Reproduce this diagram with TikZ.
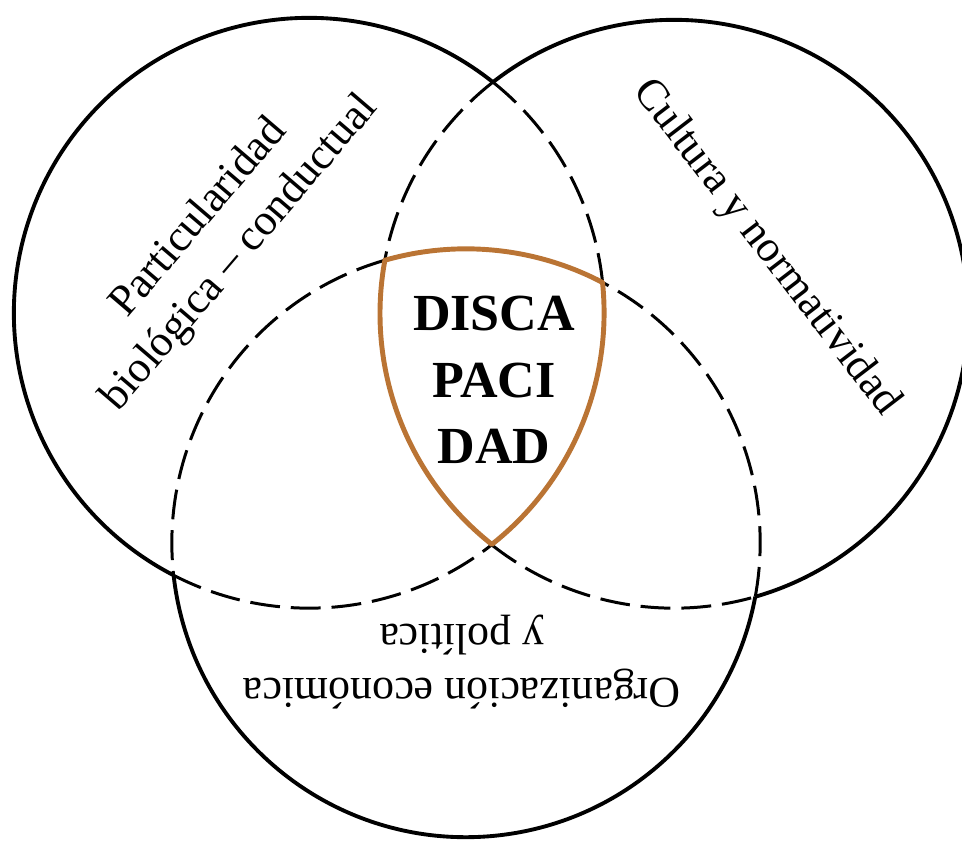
\documentclass[tikz,border=0pt]{standalone}
\usepackage{fontspec}
\setmainfont{Liberation Serif}
\definecolor{corecolor}{RGB}{186,116,52}

\begin{document}
\begin{tikzpicture}[x=0.01cm, y=0.01cm,
  solidarc/.style={line width=1.1pt},
  dasharc/.style={line width=0.85pt, dash pattern=on 8.5pt off 3.1pt},
  corearc/.style={line width=1.4pt, draw=corecolor, line join=round},
  lbl/.style={align=center, font=\fontsize{12.5}{15.4}\selectfont}]
  \useasboundingbox (0,0) rectangle (962,842);
  \coordinate (bio) at (309,529);
  \coordinate (cul) at (674,528);
  \coordinate (eco) at (466,299);

  \draw[solidarc] (bio) ++(51.4:2.95cm) arc[start angle=51.4, end angle=242.7, radius=2.95cm];
  \draw[dasharc] (bio) ++(242.7:2.95cm) arc[start angle=242.7, end angle=308.3, radius=2.95cm];
  \draw[dasharc] (bio) ++(5.9:2.95cm) arc[start angle=5.9, end angle=51.4, radius=2.95cm];

  \draw[solidarc] (cul) ++(286:2.94cm) arc[start angle=286, end angle=488, radius=2.94cm];
  \draw[dasharc] (cul) ++(128:2.94cm) arc[start angle=128, end angle=169.5, radius=2.94cm];
  \draw[dasharc] (cul) ++(231.7:2.94cm) arc[start angle=231.7, end angle=286, radius=2.94cm];

  \draw[solidarc] (eco) ++(186.3:2.94cm) arc[start angle=186.3, end angle=349.5, radius=2.94cm];
  \draw[dasharc] (eco) ++(-10.5:2.94cm) arc[start angle=-10.5, end angle=62.35, radius=2.94cm];
  \draw[dasharc] (eco) ++(106:2.94cm) arc[start angle=106, end angle=186.3, radius=2.94cm];

  \draw[corearc] (eco) ++(106:2.94cm) arc[start angle=106, end angle=62.35, radius=2.94cm]
    arc[start angle=5.9, end angle=-51.7, radius=2.95cm]
    arc[start angle=231.7, end angle=169.5, radius=2.94cm] -- cycle;

  \node[lbl, rotate=49.5] (biolbl) at (220,606) {Particularidad\\biológica – conductual};
  \node[lbl, rotate=-52.5] (cullbl) at (766,594) {Cultura y normatividad};
  \node[lbl, rotate=180] (ecolbl) at (462,180) {Organización económica\\y política};
  \node[align=center, font=\fontsize{14.8}{18.9}\selectfont\bfseries] (core) at (494,462) {DISCA\\PACI\\DAD};
\end{tikzpicture}
\end{document}
